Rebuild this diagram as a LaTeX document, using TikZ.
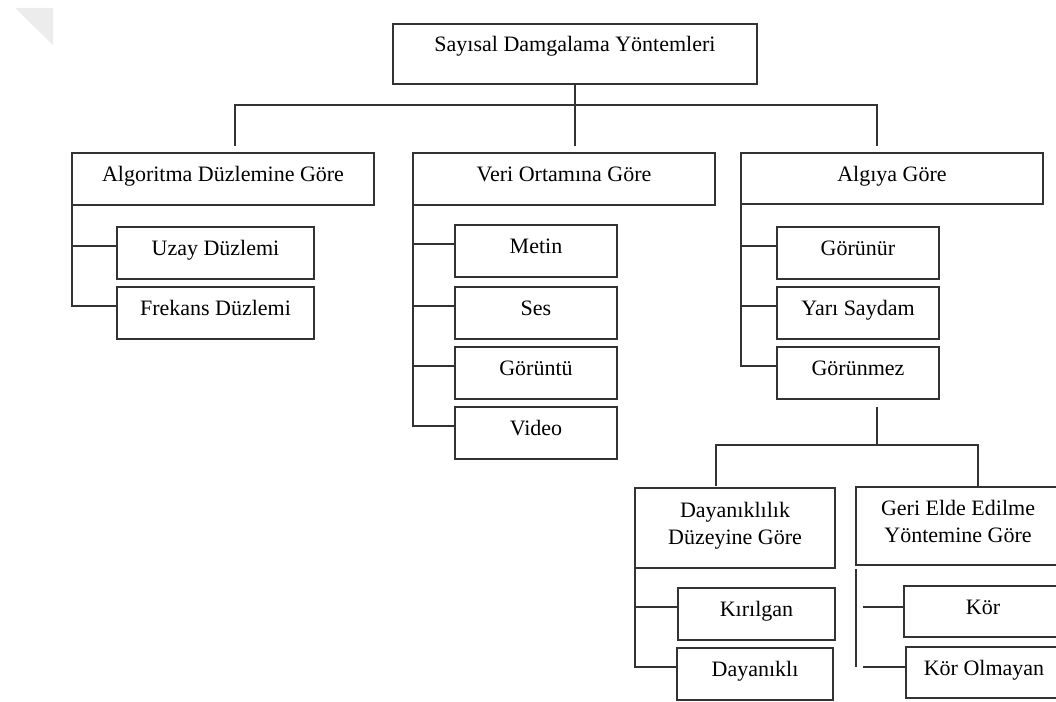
\documentclass[tikz,border=0pt]{standalone}
\usepackage{fontspec}
\setmainfont{Liberation Serif}
\begin{document}
\begin{tikzpicture}[x=1pt,y=-1pt,
  line width=1.9pt,draw=black!80,
  box/.style={draw=black!80,anchor=north west,inner sep=0pt,outer sep=0pt,align=center,
    font=\fontsize{22}{27}\selectfont,text height=15pt,text depth=10pt},
  twoline/.style={text height=42pt},
  link/.style={draw=black!80,line width=1.9pt}]
\useasboundingbox (0,0) rectangle (1056,701);
\clip (0,0) rectangle (1056,701);
\fill[gray!15](15,8)--(53,8)--(53,45)--cycle;
\node[box,minimum width=364pt,minimum height=60pt,text depth=19pt] (top) at (393,24) {Sayısal Damgalama Yöntemleri};
\node[box,minimum width=302pt,minimum height=52pt] (alg) at (72,153) {Algoritma Düzlemine Göre};
\node[box,minimum width=302pt,minimum height=52pt] (veri) at (413,153) {Veri Ortamına Göre};
\node[box,minimum width=302pt,minimum height=51pt] (algi) at (741,153) {Algıya Göre};
\node[box,minimum width=197pt,minimum height=52pt] (uzay) at (117,227) {Uzay Düzlemi};
\node[box,minimum width=197pt,minimum height=52pt] (frek) at (117,287) {Frekans Düzlemi};
\node[box,minimum width=162pt,minimum height=52pt] (metin) at (455,225) {Metin};
\node[box,minimum width=162pt,minimum height=52pt] (ses) at (455,287) {Ses};
\node[box,minimum width=162pt,minimum height=52pt] (goruntu) at (455,347) {Görüntü};
\node[box,minimum width=162pt,minimum height=52pt] (video) at (455,407) {Video};
\node[box,minimum width=162pt,minimum height=52pt] (gorunur) at (777,227) {Görünür};
\node[box,minimum width=162pt,minimum height=52pt] (yari) at (777,287) {Yarı Saydam};
\node[box,minimum width=162pt,minimum height=52pt] (gorunmez) at (777,347) {Görünmez};
\node[box,twoline,minimum width=200pt,minimum height=80pt] (dayan) at (635,488) {Dayanıklılık\\Düzeyine Göre};
\node[box,twoline,minimum width=204pt,minimum height=78pt] (geri) at (856,487) {Geri Elde Edilme\\Yöntemine Göre};
\node[box,minimum width=157pt,minimum height=52pt] (kirilgan) at (678,588) {Kırılgan};
\node[box,minimum width=156pt,minimum height=52pt] (dayanikli) at (677,648) {Dayanıklı};
\node[box,minimum width=158pt,minimum height=51pt] (kor) at (904,586) {Kör};
\node[box,minimum width=156pt,minimum height=51pt] (korol) at (906,647) {Kör Olmayan};
\coordinate (b1) at (235,146);
\coordinate (b3) at (877,146);
\draw[link] (top.south) -- (top.south |- b1);
\draw[link] (b1) -- ++(0,-41) -| (b3);
\draw[link] (alg.south west) |- ([yshift=7pt]frek.west);
\draw[link] ([yshift=7pt]alg.west |- uzay.west) -- ([yshift=7pt]uzay.west);
\draw[link] (veri.south west) |- ([yshift=7pt]video.west);
\foreach \n in {metin,ses,goruntu}
  \draw[link] ([yshift=7pt]veri.west |- \n.west) -- ([yshift=7pt]\n.west);
\draw[link] (algi.south west) |- ([yshift=7pt]gorunmez.west);
\foreach \n in {gorunur,yari}
  \draw[link] ([yshift=7pt]algi.west |- \n.west) -- ([yshift=7pt]\n.west);
\coordinate (s0) at (877,407);
\coordinate (j) at (877,445);
\coordinate (s1) at (716,486);
\coordinate (s2) at (978,486);
\draw[link] (s0) -- (j);
\draw[link] (s1) |- (j) -| (s2);
\draw[link] (dayan.south west) |- ([yshift=7pt]dayanikli.west);
\draw[link] ([yshift=7pt]dayan.west |- kirilgan.west) -- ([yshift=7pt]kirilgan.west);
\coordinate (g0) at (856,569);
\coordinate (g1) at (856,667);
\coordinate (k1) at (863,607);
\coordinate (k2) at (863,667);
\draw[link] (g0) -- (g1);
\draw[link] (k1) -- (kor.west |- k1);
\draw[link] (k2) -- (korol.west |- k2);
\end{tikzpicture}
\end{document}
